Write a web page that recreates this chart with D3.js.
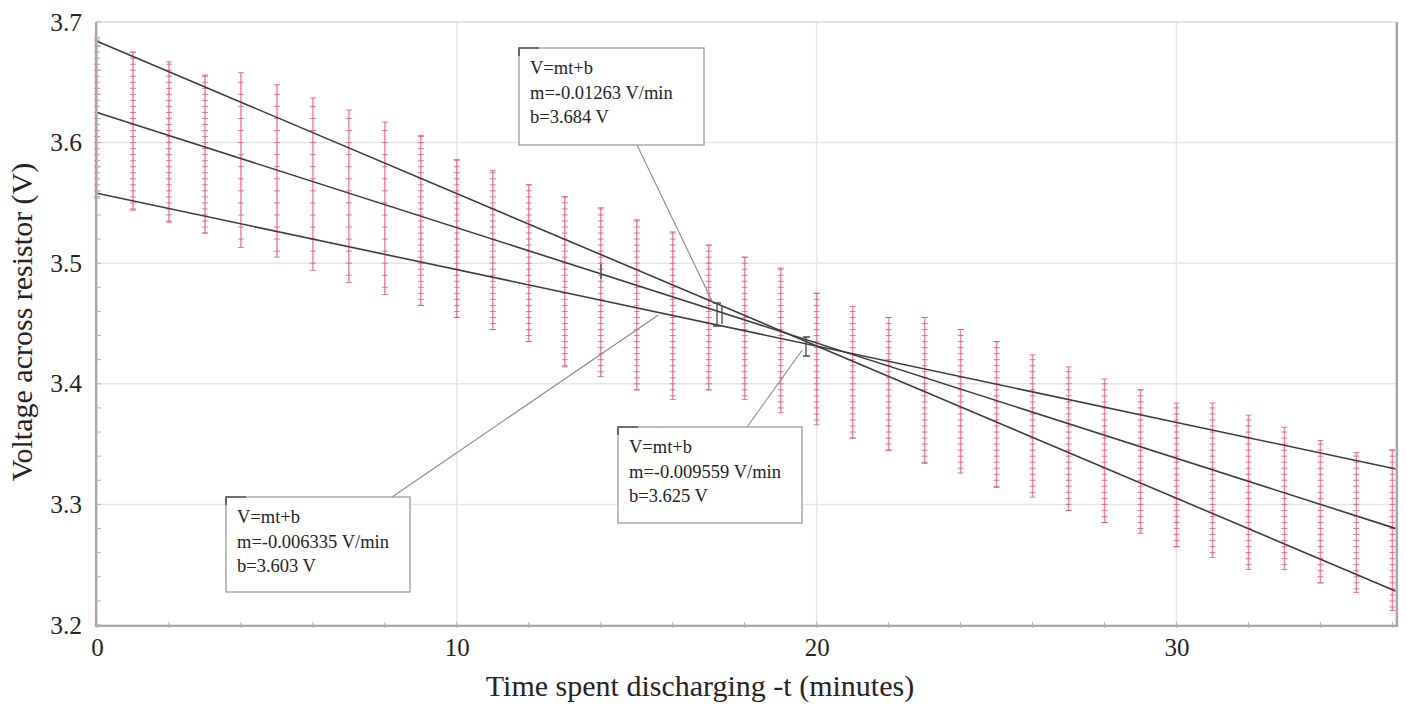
<!DOCTYPE html>
<html>
<head>
<meta charset="utf-8">
<script src="https://cdn.jsdelivr.net/npm/d3@7"></script>
<style>
  html, body { margin: 0; padding: 0; background: #fff; }
  svg { display: block; }
</style>
</head>
<body>
<div id="chart"></div>
<script>
// readings: time (min) and the top / bottom of each red error column (V)
const times = [0, 1, 2, 3, 4, 5, 6, 7, 8, 9, 10, 11, 12, 13, 14, 15, 16, 17, 18,
  19, 20, 21, 22, 23, 24, 25, 26, 27, 28, 29, 30, 31, 32, 33, 34, 35, 36];
const vHigh = [3.687, 3.675, 3.667, 3.656, 3.658, 3.648, 3.637, 3.627, 3.617, 3.606,
  3.586, 3.577, 3.565, 3.555, 3.546, 3.536, 3.526, 3.515, 3.505, 3.496,
  3.475, 3.464, 3.455, 3.455, 3.445, 3.435, 3.424, 3.414, 3.404, 3.395,
  3.384, 3.384, 3.374, 3.364, 3.353, 3.343, 3.345];
const vLow = [3.554, 3.544, 3.534, 3.525, 3.513, 3.505, 3.494, 3.484, 3.474, 3.465,
  3.455, 3.445, 3.435, 3.414, 3.406, 3.395, 3.387, 3.395, 3.387, 3.376,
  3.366, 3.355, 3.345, 3.334, 3.326, 3.314, 3.306, 3.295, 3.285, 3.276,
  3.265, 3.256, 3.246, 3.246, 3.235, 3.227, 3.212];

// linear fits V = m t + b (the third line is drawn where it sits on the plot)
const fitSlopes = [-0.01263, -0.009559, -0.006335];
const fitIntercepts = [3.684, 3.625, 3.558];
const fitLabels = [
  ["V=mt+b", "m=-0.01263 V/min", "b=3.684 V"],
  ["V=mt+b", "m=-0.009559 V/min", "b=3.625 V"],
  ["V=mt+b", "m=-0.006335 V/min", "b=3.603 V"]
];
// where each label's leader line points (t, V)
const leaderT = [17.08, 19.6, 15.6];
const leaderV = [3.4695, 3.428, 3.457];

const xTicks = [0, 10, 20, 30];
const yTicks = [3.2, 3.3, 3.4, 3.5, 3.6, 3.7];

const W = 1407, H = 705;
const serif = "'Liberation Serif', 'Times New Roman', serif";
const ink = "#242424";

const svg = d3.select("#chart").append("svg")
    .attr("width", W)
    .attr("height", H)
    .style("font-family", serif);

const x = d3.scaleLinear([0, 36.1], [97, 1396]);
const y = d3.scaleLinear([3.2, 3.7], [625, 22]);
const [x0, x1] = x.range();
const [y0, y1] = y.range();

// grid
svg.append("g")
    .attr("stroke", "#e6e6e6")
    .attr("stroke-width", 1.5)
    .call(g => g.selectAll("line.h")
        .data(yTicks.slice(1, -1))
        .join("line")
            .attr("x1", x0).attr("x2", x1)
            .attr("y1", d => y(d)).attr("y2", d => y(d)))
    .call(g => g.selectAll("line.v")
        .data(xTicks.slice(1))
        .join("line")
            .attr("y1", y0).attr("y2", y1)
            .attr("x1", d => x(d)).attr("x2", d => x(d)));

// red error columns
const cols = svg.append("g")
    .selectAll("g")
    .data(times.map((t, i) => ({t, hi: vHigh[i], lo: vLow[i]})))
    .join("g")
        .attr("transform", d => `translate(${x(d.t)},0)`);

cols.append("line")
    .attr("y1", d => y(d.hi))
    .attr("y2", d => y(d.lo))
    .attr("stroke", "#ea7d96")
    .attr("stroke-width", 1.6)
    .attr("stroke-opacity", 0.85);

cols.selectAll("line.mk")
    .data(d => [d.hi, ...d3.ticks(d.lo, d.hi, 20), d.lo])
    .join("line")
        .attr("class", "mk")
        .attr("x1", -3).attr("x2", 3)
        .attr("y1", d => y(d)).attr("y2", d => y(d))
        .attr("stroke", "#d8506c")
        .attr("stroke-width", 1)
        .attr("stroke-opacity", 0.75);

// fit lines
svg.append("g")
    .attr("fill", "none")
    .attr("stroke", "#3c3c3c")
    .attr("stroke-width", 1.6)
    .selectAll("line")
    .data(fitSlopes.map((m, i) => ({m, b: fitIntercepts[i]})))
    .join("line")
        .attr("x1", x0).attr("x2", x1)
        .attr("y1", d => y(d.b + d.m * x.invert(x0)))
        .attr("y2", d => y(d.b + d.m * x.invert(x1)));

// little selection brackets on the lines
const br = svg.append("g").attr("stroke", "#4a4a4a").attr("fill", "none").attr("stroke-width", 1.3);
br.append("path").attr("d", "M713,303 h8 M717,303 v23 M713,326 h8 M722,306 v18");
br.append("path").attr("d", "M803,337 h7 M806,337 v19 M803,356 h7");
br.append("path").attr("d", "M601,264 v15");

// annotation boxes, positioned in pixels
const boxes = [
  {x: 519, y: 48, w: 185, h: 97, ax: 637},
  {x: 618, y: 427, w: 184, h: 96, ax: 747},
  {x: 226, y: 497, w: 184, h: 95, ax: 392}
];

const notes = svg.append("g")
    .selectAll("g")
    .data(boxes.map((b, i) => ({...b, lines: fitLabels[i], t: leaderT[i], v: leaderV[i]})))
    .join("g");

notes.append("line")
    .attr("x1", d => d.ax)
    .attr("y1", d => d.y < 300 ? d.y + d.h : d.y)
    .attr("x2", d => x(d.t))
    .attr("y2", d => y(d.v))
    .attr("stroke", "#8a8a8a")
    .attr("stroke-width", 1.1);

notes.append("rect")
    .attr("x", d => d.x).attr("y", d => d.y)
    .attr("width", d => d.w).attr("height", d => d.h)
    .attr("fill", "#fff")
    .attr("stroke", "#9a9a9a")
    .attr("stroke-width", 1.3);

notes.append("path")
    .attr("d", d => `M${d.x},${d.y + 8} V${d.y} H${d.x + 20}`)
    .attr("stroke", "#555")
    .attr("stroke-width", 1.6)
    .attr("fill", "none");

notes.selectAll("text")
    .data(d => d.lines.map((s, k) => ({s, k, x: d.x, y: d.y})))
    .join("text")
        .attr("x", d => d.x + 11)
        .attr("y", d => d.y + 26 + d.k * 24.5)
        .attr("font-size", 18.5)
        .attr("fill", ink)
        .text(d => d.s);

// frame
svg.append("rect")
    .attr("x", x0).attr("y", y1)
    .attr("width", x1 - x0).attr("height", y0 - y1)
    .attr("fill", "none")
    .attr("stroke", "#d0d0d0")
    .attr("stroke-width", 1.2);
svg.append("path")
    .attr("d", `M${x0 - 1},${y1} V${y0 + 1} H${x1 + 1} V${y1}`)
    .attr("fill", "none")
    .attr("stroke", "#a8a8a8")
    .attr("stroke-width", 2.2);

// minor ticks
svg.append("g")
    .attr("stroke", "#b0b0b0")
    .attr("stroke-width", 1)
    .call(g => g.selectAll("line.mx")
        .data(x.ticks(18))
        .join("line")
            .attr("x1", d => x(d)).attr("x2", d => x(d))
            .attr("y1", y0 - 3).attr("y2", y0 + 3))
    .call(g => g.selectAll("line.my")
        .data(y.ticks(25))
        .join("line")
            .attr("y1", d => y(d)).attr("y2", d => y(d))
            .attr("x1", x0 - 1).attr("x2", x0 + 4));

// axes
svg.append("g")
    .attr("transform", `translate(0,${y0})`)
    .call(d3.axisBottom(x).tickValues(xTicks).tickSize(0).tickPadding(13))
    .call(g => g.select(".domain").remove())
    .call(g => g.selectAll("text")
        .attr("font-family", serif)
        .attr("font-size", 25)
        .attr("fill", ink));

svg.append("g")
    .attr("transform", `translate(${x0},0)`)
    .call(d3.axisLeft(y).tickValues(yTicks).tickFormat(d3.format(".1f")).tickSize(0).tickPadding(15))
    .call(g => g.select(".domain").remove())
    .call(g => g.selectAll("text")
        .attr("font-family", serif)
        .attr("font-size", 25.5)
        .attr("fill", ink));

svg.append("text")
    .attr("x", 700)
    .attr("y", 696)
    .attr("text-anchor", "middle")
    .attr("font-size", 30)
    .attr("fill", ink)
    .text("Time spent discharging -t (minutes)");

svg.append("text")
    .attr("transform", `translate(32,322) rotate(-90)`)
    .attr("text-anchor", "middle")
    .attr("font-size", 30)
    .attr("fill", ink)
    .text("Voltage across resistor (V)");
</script>
</body>
</html>
